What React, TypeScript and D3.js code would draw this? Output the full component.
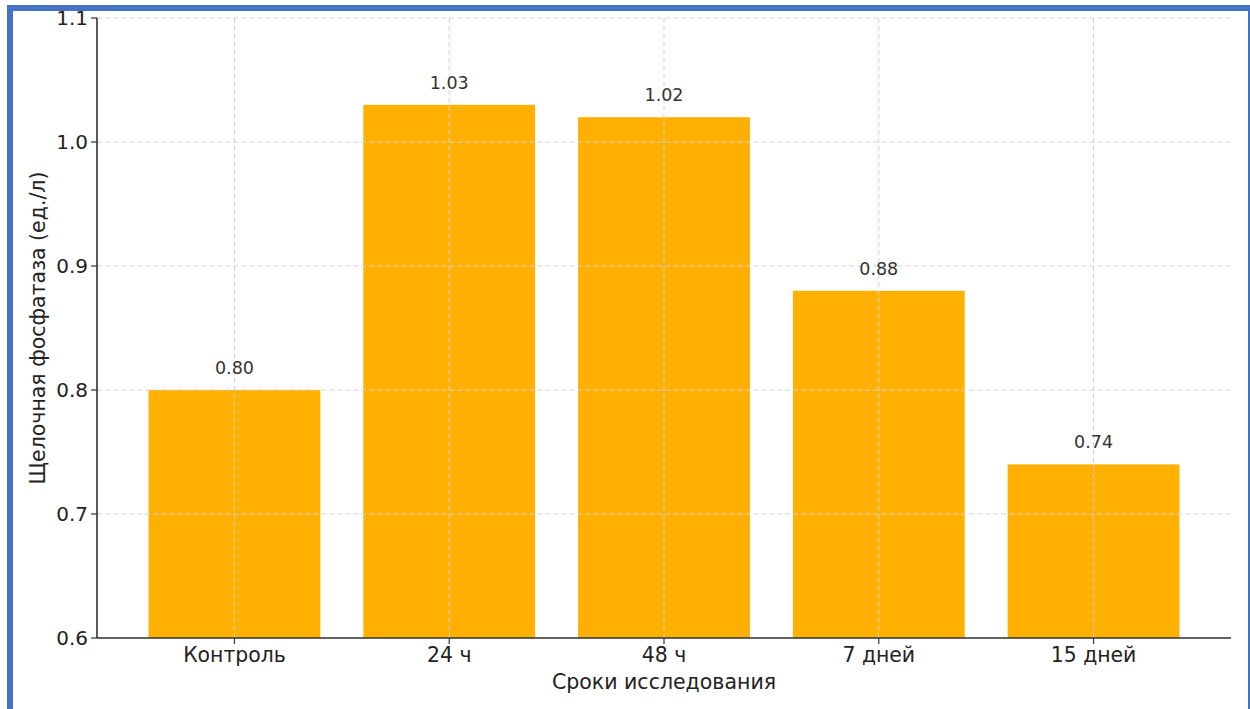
import * as d3 from 'd3'

// Data
const categories = ['Контроль', '24 ч', '48 ч', '7 дней', '15 дней']
const values = [0.8, 1.03, 1.02, 0.88, 0.74]
const yTicks = [0.6, 0.7, 0.8, 0.9, 1.0, 1.1]

const WIDTH = 1250
const HEIGHT = 709
const margin = { top: 18, right: 19, bottom: 71, left: 97 }

export default function App() {
  const innerW = WIDTH - margin.left - margin.right
  const innerH = HEIGHT - margin.top - margin.bottom

  // matplotlib-like bar placement: index positions, 0.8 bar width, 5% x margins
  const x = d3.scaleLinear()
    .domain([-0.4 - 0.24, categories.length - 1 + 0.4 + 0.24])
    .range([0, innerW])
  const barW = x(0.8) - x(0)

  const y = d3.scaleLinear().domain([0.6, 1.1]).range([innerH, 0])

  const gridColor = '#d2d2d2'
  const font = '"DejaVu Sans", sans-serif'

  return (
    <svg
      width={WIDTH}
      height={HEIGHT}
      style={{ position: 'absolute', left: 0, top: 0, background: '#fff' }}
      fontFamily={font}
    >
      {/* blue document frame */}
      <rect x={10} y={8} width={1241} height={720} fill="none" stroke="#4472c4" strokeWidth={6} />

      <g transform={`translate(${margin.left},${margin.top})`}>
        {/* bars */}
        {values.map((v, i) => (
          <rect
            key={categories[i]}
            x={x(i) - barW / 2}
            y={y(v)}
            width={barW}
            height={innerH - y(v)}
            fill="#ffb000"
          />
        ))}

        {/* grid drawn above bars */}
        {yTicks.map(t => (
          <line key={'gy' + t} x1={0} x2={innerW} y1={y(t)} y2={y(t)}
            stroke={gridColor} strokeWidth={1} strokeDasharray="5,3" />
        ))}
        {categories.map((c, i) => (
          <line key={'gx' + c} x1={x(i)} x2={x(i)} y1={0} y2={innerH}
            stroke={gridColor} strokeWidth={1} strokeDasharray="5,3" />
        ))}

        {/* value labels */}
        {values.map((v, i) => (
          <text key={'v' + i} x={x(i)} y={y(v) - 16} textAnchor="middle"
            fontSize={17.5} fill="#333">
            {v.toFixed(2)}
          </text>
        ))}

        {/* spines */}
        <line x1={0} x2={0} y1={0} y2={innerH} stroke="#333" strokeWidth={1.6} />
        <line x1={0} x2={innerW} y1={innerH} y2={innerH} stroke="#333" strokeWidth={1.6} />

        {/* y ticks */}
        {yTicks.map(t => (
          <g key={'yt' + t} transform={`translate(0,${y(t)})`}>
            <line x1={-6} x2={0} stroke="#333" strokeWidth={1.2} />
            <text x={-9} dy="0.36em" textAnchor="end" fontSize={20} fill="#222">
              {t.toFixed(1)}
            </text>
          </g>
        ))}

        {/* x ticks */}
        {categories.map((c, i) => (
          <g key={'xt' + c} transform={`translate(${x(i)},${innerH})`}>
            <line y1={0} y2={6} stroke="#333" strokeWidth={1.2} />
            <text y={24} textAnchor="middle" fontSize={20.4} fill="#222">{c}</text>
          </g>
        ))}

        {/* axis titles */}
        <text x={innerW / 2} y={innerH + 51} textAnchor="middle" fontSize={20.5} fill="#222">
          Сроки исследования
        </text>
        <text transform={`translate(${-52},${innerH / 2}) rotate(-90)`} textAnchor="middle"
          fontSize={20.5} fill="#222">
          Щелочная фосфатаза (ед./л)
        </text>
      </g>
    </svg>
  )
}
